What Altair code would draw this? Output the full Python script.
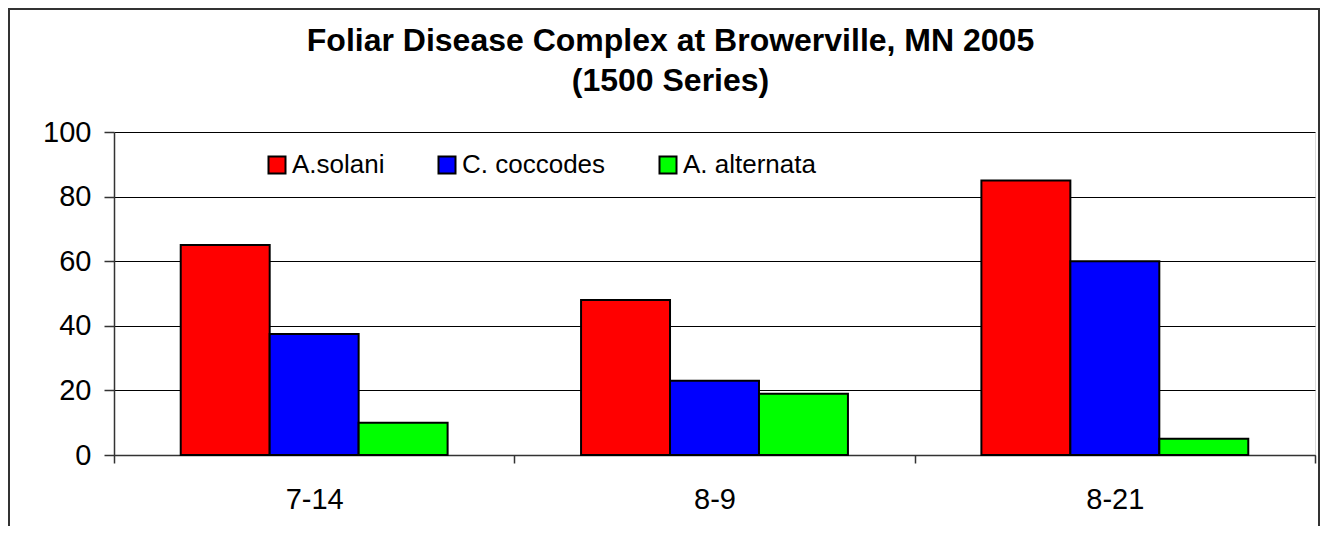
import altair as alt
import pandas as pd

dates = ["7-14", "8-9", "8-21"]
series = ["A.solani", "C. coccodes", "A. alternata"]
a_solani = [65, 48, 85]
c_coccodes = [37.5, 23, 60]
a_alternata = [10, 19, 5]
colors = ["#FF0000", "#0000FF", "#00FF00"]
y_ticks = [0, 20, 40, 60, 80, 100]

rows = []
for name, vals in zip(series, [a_solani, c_coccodes, a_alternata]):
    for d, v in zip(dates, vals):
        rows.append({"date": d, "series": name, "value": v})
df = pd.DataFrame(rows)

FONT = "Liberation Sans"

bars = alt.Chart(df).mark_bar(stroke="black", strokeWidth=2, opacity=1).encode(
    x=alt.X("date:N", sort=dates, title=None,
            scale=alt.Scale(paddingInner=0, paddingOuter=0),
            axis=alt.Axis(labelAngle=0, labelFontSize=29, labelFont=FONT, labelColor="black",
                          tickBand="extent", tickSize=8, tickColor="#333", tickWidth=1.5,
                          domainColor="#333", domainWidth=1.5, labelPadding=22)),
    xOffset=alt.XOffset("series:N", sort=series,
                        scale=alt.Scale(paddingInner=0, paddingOuter=0.75)),
    y=alt.Y("value:Q", title=None,
            scale=alt.Scale(domain=[0, 100], nice=False),
            axis=alt.Axis(values=y_ticks, labelFontSize=29, labelFont=FONT, labelColor="black",
                          tickSize=10, tickColor="#333", tickWidth=1.5, domainColor="#333",
                          domainWidth=1.5, gridColor="black", gridWidth=1, labelPadding=13)),
    color=alt.Color("series:N", sort=series,
                    scale=alt.Scale(domain=series, range=colors),
                    legend=alt.Legend(title=None, orient="none", legendX=150, legendY=20,
                                      direction="horizontal", symbolType="square",
                                      symbolSize=289, symbolStrokeColor="black",
                                      symbolStrokeWidth=2, symbolOpacity=1,
                                      labelFontSize=26, labelFont=FONT, labelColor="black",
                                      labelOffset=2, columnPadding=49, padding=0)),
)

frame = alt.Chart(pd.DataFrame({"k": [0]})).mark_rect(
    filled=False, stroke="#333", strokeWidth=2
).encode(
    x=alt.value(-105), x2=alt.value(1205), y=alt.value(-123), y2=alt.value(600)
)

chart = alt.layer(frame, bars).properties(
    width=1201, height=323,
    title=alt.TitleParams(
        ["Foliar Disease Complex at Browerville, MN 2005", "(1500 Series)"],
        font=FONT, fontSize=32, fontWeight="bold", color="black",
        anchor="middle", frame="group", dx=-44, dy=100, lineHeight=40, offset=10),
    autosize=alt.AutoSizeParams(type="none"),
    padding={"left": 106, "top": 124, "right": 5, "bottom": 71},
).configure_view(stroke="#333", strokeWidth=1.5).configure(background="white")

chart.save("out.html", embed_options={"renderer": "svg", "actions": False})
